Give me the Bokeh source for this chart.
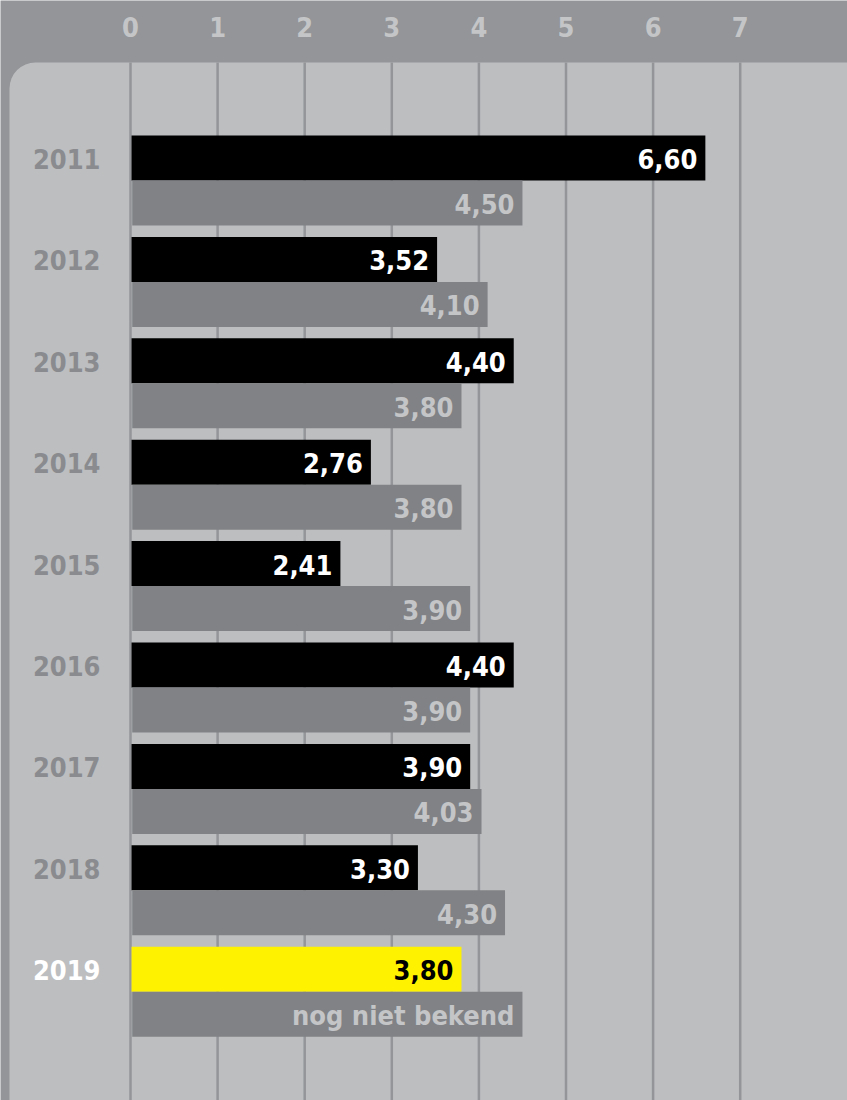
from bokeh.plotting import figure
from bokeh.models import Range1d, BoxAnnotation, ColumnDataSource
from bokeh.core.properties import value
from bokeh.embed import file_html
from bokeh.resources import INLINE

# ---- data ----
years = ["2011", "2012", "2013", "2014", "2015", "2016", "2017", "2018", "2019"]
prognose = [6.60, 3.52, 4.40, 2.76, 2.41, 4.40, 3.90, 3.30, 3.80]
realisatie = [4.50, 4.10, 3.80, 3.80, 3.90, 3.90, 4.03, 4.30, None]
placeholder_len = 4.50          # length of the "not yet known" bar
placeholder_text = "nog niet bekend"
ticks = [0, 1, 2, 3, 4, 5, 6, 7]

# ---- style ----
FONT = value("'DejaVu Sans Condensed', 'DejaVu Sans', sans-serif")
OUTER = "#939598"
PANEL = "#bcbec0"
GREY_BAR = "#808285"
YELLOW = "#fff200"
LABEL_GREY = "#8a8b8e"
LIGHT = "#c4c5c7"

W, H = 847, 1100
UX = 87.1       # px per unit (x)
UY = 101.4      # px per year block
X0 = 130        # px of value 0
Y0 = 180        # px of block 0 centre
half = 22.5 / UY

p = figure(width=W, height=H, output_backend="svg", toolbar_location=None,
           x_axis_type=None, y_axis_type=None, min_border=0,
           x_range=Range1d(-X0 / UX, (W - X0) / UX),
           y_range=Range1d((H - Y0) / UY, -Y0 / UY))
p.background_fill_color = OUTER
p.border_fill_color = OUTER
p.outline_line_color = None
p.grid.visible = False

panel_top = (62 - Y0) / UY
p.add_layout(BoxAnnotation(left=(9 - X0) / UX, right=(872 - X0) / UX,
                           top=panel_top, bottom=(H + 60 - Y0) / UY,
                           fill_color=PANEL, fill_alpha=1, line_alpha=0,
                           border_radius=26, level="underlay"))

# grid lines
p.segment(x0=ticks, x1=ticks, y0=[panel_top] * len(ticks),
          y1=[(H + 20 - Y0) / UY] * len(ticks), line_color=OUTER, line_width=2.5)

# tick labels on top
p.text(x=ticks, y=[(26 - Y0) / UY] * len(ticks), text=[str(t) for t in ticks],
       text_font=FONT, text_font_style="bold", text_font_size="27px",
       text_color=LIGHT, text_align="center", text_baseline="middle")

idx = list(range(len(years)))
fmt = lambda v: f"{v:.2f}".replace(".", ",")

top_colors = ["black"] * (len(years) - 1) + [YELLOW]
top_text_colors = ["white"] * (len(years) - 1) + ["black"]
year_colors = [LABEL_GREY] * (len(years) - 1) + ["white"]

src_top = ColumnDataSource(dict(y=[i - half for i in idx], v=prognose,
                                t=[fmt(v) for v in prognose], c=top_colors,
                                tc=top_text_colors))
gvals = [v if v is not None else placeholder_len for v in realisatie]
gtext = [fmt(v) if v is not None else placeholder_text for v in realisatie]
src_bot = ColumnDataSource(dict(y=[i + half for i in idx], v=gvals, t=gtext))

p.hbar(y="y", left=0.012, right="v", height=2 * half, fill_color="c",
       line_color=None, source=src_top)
p.hbar(y="y", left=0.02, right="v", height=2 * half, fill_color=GREY_BAR,
       line_color=None, source=src_bot)

p.text(x="v", y="y", text="t", source=src_top, x_offset=-8, y_offset=1,
       text_font=FONT, text_font_style="bold", text_font_size="27px",
       text_color="tc", text_align="right", text_baseline="middle")
p.text(x="v", y="y", text="t", source=src_bot, x_offset=-8, y_offset=1,
       text_font=FONT, text_font_style="bold", text_font_size="27px",
       text_color=LIGHT, text_align="right", text_baseline="middle")

src_y = ColumnDataSource(dict(y=[i - half for i in idx], t=years, c=year_colors,
                              x=[(100 - X0) / UX] * len(years)))
p.text(x="x", y="y", text="t", source=src_y,
       y_offset=1, text_font=FONT, text_font_style="bold", text_font_size="27px",
       text_color="c", text_align="right", text_baseline="middle")

open("out.html", "w").write(file_html(p, INLINE))
